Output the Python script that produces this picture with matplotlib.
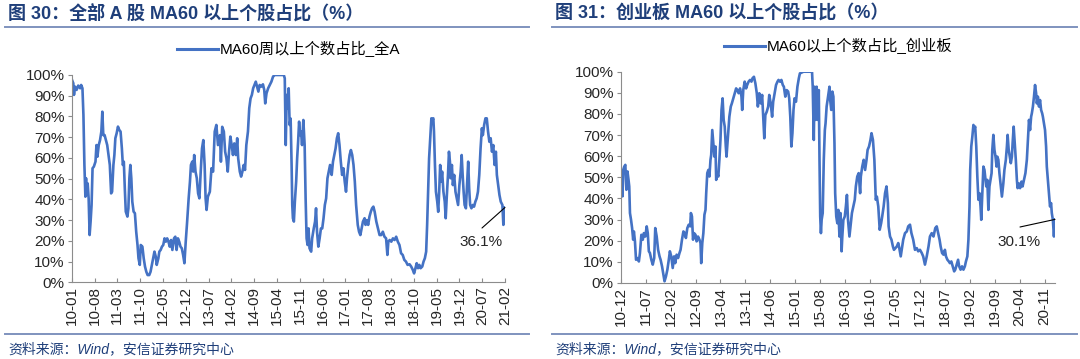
import matplotlib
matplotlib.use("Agg")
import matplotlib.pyplot as plt
from matplotlib.lines import Line2D
from matplotlib.ticker import FuncFormatter

# ---- data (x = months since start of each series, y = %) ----
# left: MA60周以上个数占比_全A, starts 2010-01
left_m = [0, 0.5, 0.7, 1.0, 1.5, 2.0, 2.6, 2.9, 3.3, 3.6, 3.9, 4.2, 4.4, 4.6, 4.9, 5.2, 5.5, 5.8, 6.1, 6.4,
          6.8, 7.3, 7.6, 7.9, 8.3, 8.7, 9.1, 9.4, 9.7, 10.1, 10.5, 10.9, 11.3, 11.7, 12.1, 12.4, 12.8, 13.1, 13.4, 13.8,
          14.2, 14.6, 15, 15.4, 15.7, 16, 16.3, 16.6, 17.1, 17.4, 17.7, 18, 18.3, 18.6, 19, 19.4, 19.8, 20.2, 20.5, 20.9,
          21.2, 21.7, 22.1, 22.5, 22.9, 23.3, 23.8, 24.2, 24.6, 25, 25.4, 25.8, 26.1, 26.6, 26.9, 27.3, 27.7, 28.1, 28.5, 28.9,
          29.3, 29.7, 30.1, 30.5, 30.9, 31.4, 31.8, 32.2, 32.6, 33, 33.4, 33.8, 34.2, 34.6, 35, 35.4, 35.9, 36.3, 36.6, 37,
          37.3, 37.6, 38, 38.4, 38.8, 39.2, 39.6, 40, 40.4, 40.8, 41.1, 41.4, 41.8, 42.4, 42.9, 43.4, 43.9, 44.4, 44.9, 45.5,
          45.8, 46.2, 46.7, 47.1, 47.5, 47.9, 48.3, 48.7, 49.1, 49.5, 49.9, 50.4, 50.8, 51.1, 51.6, 52, 52.4, 52.8, 53.2, 53.6,
          54.1, 54.5, 54.9, 55.3, 55.7, 56.1, 56.5, 56.9, 57.3, 57.7, 58.2, 58.7, 59.1, 59.4, 59.8, 60.3, 60.8, 61.3, 61.8, 62.3,
          63.8, 65.1, 65.4, 65.7, 66, 66.3, 66.6, 66.9, 67.2, 67.5, 67.7, 67.9, 68.2, 68.5, 68.9, 69.2, 69.5, 69.8, 70.1, 70.4,
          70.7, 71.1, 71.5, 71.8, 72.1, 72.4, 72.7, 73, 73.5, 73.8, 74.3, 74.7, 75, 75.3, 75.7, 76.1, 76.5, 76.9, 77.3, 77.7,
          78.1, 78.5, 78.9, 79.3, 79.8, 80.2, 80.6, 81, 81.4, 81.8, 82.2, 82.6, 83, 83.4, 83.8, 84.2, 84.5, 84.9, 85.3, 85.7,
          86.1, 86.5, 86.9, 87.3, 87.8, 88.2, 88.6, 88.9, 89.4, 89.9, 90.2, 90.6, 91, 91.4, 91.8, 92.2, 92.6, 93, 93.5, 94,
          94.5, 95, 95.5, 96, 96.5, 96.9, 97.2, 97.6, 98.1, 98.6, 99.1, 99.6, 100.1, 100.6, 101.1, 101.6, 102.1, 102.6, 103.1, 103.7,
          104.2, 104.7, 105.1, 105.5, 105.9, 106.3, 106.7, 107.1, 107.6, 108, 108.4, 108.8, 109.1, 109.4, 109.7, 110, 110.4, 110.7, 111, 111.2,
          111.5, 111.8, 112.2, 112.5, 112.8, 113.1, 113.4, 113.7, 114.1, 114.5, 114.8, 115.1, 115.5, 115.8, 116.1, 116.3, 116.7, 117, 117.4, 117.8,
          118.2, 118.6, 119, 119.4, 119.7, 120, 120.3, 120.6, 121, 121.4, 121.7, 122, 122.3, 122.7, 123.1, 123.5, 123.9, 124.3, 124.7, 125.1,
          125.5, 125.9, 126.2, 126.6, 127, 127.4, 127.8, 128.2, 128.6, 129, 129.4, 129.8, 130.2, 130.5, 130.9, 131.3, 131.7, 132.2, 132.5, 133]
left_v = [98, 96, 90.4, 94.4, 92.8, 94.9, 93.6, 95.2, 93.6, 80.7, 56.6, 41.3, 50.2, 42.1, 47.7, 40.5, 22.8, 29.3, 37.3, 55,
          55.8, 58.2, 66.2, 60.6, 66.2, 68.6, 72.7, 82.3, 71, 71, 68.6, 66.2, 61.4, 56.6, 42.9, 43.7, 56.6, 61.4, 69.5, 71.9,
          75.1, 73.5, 72.7, 64.6, 56.6, 58.2, 45.3, 34.1, 31.7, 35.7, 50.2, 56.6, 50.2, 38.9, 34.1, 33.3, 24.4, 18, 11.6, 8.4,
          18, 17.2, 11.6, 7.6, 5.1, 3.5, 3.5, 5.1, 8.4, 11.6, 14.8, 12.4, 8.4, 11.6, 14.8, 15.6, 17.2, 18, 21.2, 19.6,
          21.2, 19.6, 17.2, 20.4, 15.6, 21.2, 22, 15.6, 21.2, 19.6, 17.2, 16.4, 13.2, 9.2, 19.6, 28.5, 40.5, 48.6, 56.6, 58.2,
          53.4, 61.4, 53.4, 50.2, 42.9, 40.5, 53.4, 64.6, 68.6, 56.6, 40.5, 34.9, 41.3, 43.7, 55, 53.4, 72.7, 75.9, 66.2, 71,
          58.2, 75, 72.7, 63, 59.8, 53.4, 63, 70.3, 66.2, 61.4, 67, 61.4, 69.5, 59.8, 53.4, 51, 53.4, 56.6, 54.2, 66.2,
          72.7, 84, 88.7, 90.4, 93.6, 95.2, 96.8, 94.4, 92, 95.2, 94.4, 95.5, 92.8, 86.3, 91.2, 93.6, 95.2, 96.8, 99.2, 100,
          100, 100, 98.4, 66.2, 90.4, 84, 93.6, 75.9, 79, 56.6, 37.3, 30.9, 29.3, 38.9, 48.6, 59.8, 67.8, 77.5, 71, 72.7,
          66.2, 78.3, 66.2, 40.5, 21.2, 18, 26, 16.4, 14.8, 21.2, 26, 29.3, 35.7, 24.4, 17.2, 21.2, 26, 26, 30.9, 37.3,
          40.5, 50.2, 53.4, 56.6, 51.8, 58.2, 61.4, 64.6, 69.5, 71.9, 66.2, 58.2, 51.8, 55, 48.6, 43.7, 50.2, 56.6, 61.4, 63.8,
          61.4, 56.6, 48.6, 37.3, 27.7, 24.4, 22.8, 25.2, 29.3, 30.9, 27.7, 30, 27.7, 31.7, 34, 35.7, 36.5, 34, 29.3, 26,
          22.8, 22.8, 24.4, 22, 21.2, 13.2, 19.6, 20.4, 19.6, 21.2, 20.4, 22, 19.6, 18, 14, 13.2, 10.8, 10, 8.4, 8.7,
          7.6, 6, 4.3, 6.8, 9.2, 6.8, 8.4, 6.8, 7.6, 10, 11.6, 14.8, 27.7, 43.7, 59.8, 67.8, 79.1, 78.3, 79.1, 72.7,
          56.6, 43.7, 38.9, 34, 43.7, 56.6, 48.6, 53.4, 43.7, 38.9, 30.9, 40.5, 51.8, 63, 58.2, 50.2, 56.6, 46.9, 51.8, 43.7,
          40.5, 37.3, 46.9, 53.4, 61.4, 51.8, 43.7, 37.3, 35.7, 48.6, 58.2, 45.3, 37.3, 35.7, 37.3, 36.5, 38.9, 40.5, 43.7, 51.8,
          64.6, 74.3, 71, 75.9, 79.1, 79.1, 72.7, 67.8, 69.5, 63, 66.2, 56.6, 63, 51.8, 46.9, 42.1, 38.9, 37.3, 27.7, 36.1]

# right: MA60以上个数占比_创业板, starts 2010-12
right_m = [0, 0.3, 0.5, 0.7, 1.0, 1.3, 1.6, 1.9, 2.2, 2.4, 2.6, 2.9, 3.2, 3.5, 3.7, 4.0, 4.3, 4.7, 5.1, 5.4,
           5.8, 6.2, 6.5, 6.9, 7.3, 7.6, 7.9, 8.2, 8.6, 9.0, 9.4, 9.7, 10.1, 10.5, 10.9, 11.2, 11.6, 12.0, 12.3, 12.7,
           13.1, 13.5, 13.8, 14.2, 14.6, 15, 15.3, 15.7, 16.1, 16.5, 16.8, 17.2, 17.6, 18, 18.3, 18.7, 19.1, 19.5, 19.7, 20,
           20.3, 20.6, 21, 21.3, 21.7, 22.1, 22.4, 22.6, 22.9, 23.2, 23.5, 23.8, 24, 24.3, 24.6, 24.9, 25.2, 25.4, 25.7, 26,
           26.3, 26.6, 26.8, 27.1, 27.4, 27.7, 28, 28.3, 28.6, 28.9, 29.2, 29.5, 29.7, 30.1, 30.5, 30.9, 31.2, 31.6, 32, 32.4,
           32.7, 33.1, 33.5, 33.9, 34.1, 34.4, 34.8, 35.2, 35.5, 35.9, 36.3, 36.7, 37, 37.4, 37.8, 38.2, 38.5, 38.9, 39.3, 39.7,
           40, 40.3, 40.6, 41, 41.4, 41.7, 42.1, 42.5, 42.8, 43.2, 43.6, 44, 44.3, 44.7, 45.1, 45.5, 45.8, 46.2, 46.6, 47,
           47.3, 47.6, 47.9, 48.2, 48.5, 48.8, 49.2, 49.6, 50, 50.3, 51.3, 52.2, 53.1, 53.7, 53.9, 54.2, 54.4, 54.7, 55, 55.3,
           55.6, 55.8, 56, 56.2, 56.4, 56.7, 57, 57.3, 57.5, 57.8, 58.2, 58.6, 58.8, 59.1, 59.4, 59.7, 60, 60.2, 60.5, 60.8,
           61.1, 61.4, 61.7, 62, 62.2, 62.5, 62.9, 63.2, 63.5, 63.8, 64.2, 64.5, 64.9, 65.3, 65.7, 66, 66.4, 66.8, 67.2, 67.4,
           67.8, 68.2, 68.6, 69, 69.3, 69.7, 70.1, 70.4, 70.8, 71.2, 71.6, 71.9, 72.3, 72.7, 73.1, 73.4, 73.8, 74.2, 74.6, 75,
           75.2, 75.6, 76, 76.4, 76.7, 77.1, 77.5, 77.9, 78.2, 78.6, 79.3, 79.8, 80.3, 80.7, 81.2, 81.6, 82.1, 82.6, 83.1, 83.5,
           84, 84.5, 84.9, 85.4, 85.9, 86.4, 86.8, 87.3, 87.8, 88.3, 88.7, 89.1, 89.5, 89.8, 90.2, 90.6, 91, 91.3, 91.7, 92.1,
           92.4, 92.8, 93.2, 93.6, 93.9, 94.3, 94.7, 95, 95.4, 95.8, 96.2, 96.6, 96.9, 97.3, 97.6, 97.9, 98.1, 98.4, 98.7, 99,
           99.3, 99.5, 99.8, 100.1, 100.4, 100.7, 101, 101.2, 101.5, 101.8, 102.1, 102.3, 102.6, 102.9, 103.2, 103.5, 103.8, 104.1, 104.3, 104.6,
           104.9, 105.2, 105.5, 105.7, 106, 106.3, 106.6, 107, 107.4, 107.7, 108.1, 108.4, 108.6, 108.9, 109.2, 109.5, 109.8, 110, 110.3, 110.6,
           110.9, 111.2, 111.4, 111.7, 112.1, 112.5, 112.8, 113.2, 113.6, 114, 114.3, 114.6, 114.9, 115.2, 115.4, 115.7, 116, 116.3, 116.6, 116.8,
           117.1, 117.4, 117.7, 118, 118.3, 118.5, 118.8, 119.1, 119.4, 119.6, 119.9, 120.2, 120.5, 120.8, 121, 121.3, 121.6, 121.9]
right_v = [52, 51.2, 41, 53.5, 55.1, 55.9, 44.1, 52.8, 48.8, 45.7, 33.1, 29.9, 26, 20.5, 24.4, 19.7, 11, 11.8, 10.2, 14.2,
           22.8, 20.5, 23.6, 22, 26.8, 23.6, 15, 14.2, 11, 8.7, 11.8, 26, 22, 15.7, 12.6, 11, 7.9, 3.9, 0.8, 3.1,
           6.3, 11, 15, 12.6, 7.1, 12.6, 9.4, 13.4, 11.8, 14.2, 15.7, 20.5, 24.4, 23.6, 21.3, 26, 27.6, 26.8, 33.1, 31.5,
           20.5, 23.6, 22.8, 19.7, 22, 20.5, 18.9, 9.4, 18.9, 23.6, 32.3, 34.6, 42.5, 52, 53.5, 50.4, 58.3, 60.6, 72.4, 66.1,
           59.8, 64.6, 48.8, 52, 50.4, 58.3, 67.7, 81.9, 87.4, 77.2, 74, 64.6, 59.8, 69.3, 78.7, 83.5, 85, 87.4, 89.8, 92.1,
           91.3, 89.8, 92.1, 88.2, 81.9, 91.3, 95.3, 92.1, 93.7, 95.3, 96.1, 95.3, 96.9, 97.6, 94.5, 89.8, 83.5, 89.8, 85, 89,
           78.7, 68.5, 79.5, 81.1, 83.5, 89, 85, 78.7, 85.8, 89.8, 93.7, 95.3, 96.1, 95.3, 96.1, 93.7, 92.9, 88.2, 91.3, 90.6,
           87.4, 78.7, 64.6, 70.9, 81.9, 87.4, 85.8, 92.9, 96.9, 99.2, 100, 100, 100, 100, 92.9, 67.7, 92.9, 77.2, 92.9, 77.2,
           91.3, 58.3, 31.5, 23.6, 29.9, 33.1, 58.3, 72.4, 75.6, 83.5, 88.2, 92.9, 86.6, 81.9, 90.6, 88.2, 66.1, 42.5, 31.5, 28.3,
           34.6, 22, 33.1, 15, 22, 29.9, 31.5, 36.2, 41.7, 29.9, 22, 26.8, 33.1, 36.2, 39.4, 45.7, 50.4, 52, 42.5, 50.4,
           55.1, 58.3, 53.5, 58.3, 63, 64.6, 67.7, 70.9, 67.7, 58.3, 39.4, 40.9, 36.2, 25.2, 28.3, 31.5, 36.2, 42.5, 45.7, 37.8,
           26.8, 22, 20.5, 17.3, 15.7, 16.5, 17.3, 18.9, 16.5, 12.6, 20.5, 23.6, 24.4, 26.8, 27.6, 23.6, 20.5, 15.7, 16.5, 15,
           15.7, 14.2, 12.6, 8.7, 12.6, 17.3, 22, 23.6, 22, 26, 26.8, 23.6, 20.5, 17.3, 14.2, 13.4, 15.7, 12.6, 11, 10.2,
           9.4, 10.2, 7.9, 5.5, 6.3, 8.7, 11, 7.9, 6.3, 7.9, 6.3, 7.9, 10.2, 12.6, 20.5, 36.2, 53.5, 64.6, 69.3, 74.8,
           73.2, 74, 64.6, 50.4, 39.4, 42.5, 36.2, 29.9, 42.5, 55.1, 53.5, 50.4, 45.7, 48.8, 34.6, 45.7, 48.8, 52, 63, 70.1,
           63, 59.8, 55.1, 59.8, 58.3, 52, 47.2, 40.9, 47.2, 53.5, 58.3, 64.6, 70.1, 63, 59.8, 56.7, 59.8, 66.1, 74, 66.1,
           58.3, 48.8, 44.9, 47.2, 44.9, 48, 45.7, 48.8, 52, 58.3, 67.7, 77.2, 72.4, 78.7, 80.3, 83.5, 88.2, 93.7, 89.8, 85,
           88.2, 83.5, 86.6, 81.9, 80.3, 78.7, 75.6, 72.4, 64.6, 55.1, 48.8, 42.5, 36.2, 37.8, 33.1, 29.9, 22, 30.1]

left_ticks = ["10-01", "10-08", "11-03", "11-10", "12-05", "12-12", "13-07", "14-02", "14-09", "15-04",
              "15-11", "16-06", "17-01", "17-08", "18-03", "18-10", "19-05", "19-12", "20-07", "21-02"]
right_ticks = ["10-12", "11-07", "12-02", "12-09", "13-04", "13-11", "14-06", "15-01", "15-08", "16-03",
               "16-10", "17-05", "17-12", "18-07", "19-02", "19-09", "20-04", "20-11"]

titles = ["图 30：全部 A 股 MA60 以上个股占比（%）", "图 31：创业板 MA60 以上个股占比（%）"]
legends = ["MA60周以上个数占比_全A", "MA60以上个数占比_创业板"]
last_labels = ["36.1%", "30.1%"]
source = "资料来源：Wind，安信证券研究中心"

FONT = ["Liberation Sans", "Noto Sans CJK SC", "DejaVu Sans"]
plt.rcParams["font.family"] = FONT
LINE = "#4472C4"
NAVY = "#1F3F7A"

W, H = 1080, 359
fig = plt.figure(figsize=(W / 100, H / 100), dpi=100)


def px(x0, y0, x1, y1):
    # pixel box -> figure fraction rect
    return [x0 / W, 1 - y1 / H, (x1 - x0) / W, (y1 - y0) / H]


panels = [
    dict(rect=px(71.7, 75, 505, 282.3), m=left_m, v=left_v, ticks=left_ticks, xmax=133,
         ann_text=(481, 242), ann_from=(482, 228)),
    dict(rect=px(620.7, 71.7, 1055, 283), m=right_m, v=right_v, ticks=right_ticks, xmax=121.9,
         ann_text=(1019, 242), ann_from=(1020, 227)),
]

for i, p in enumerate(panels):
    ax = fig.add_axes(p["rect"])
    ax.plot(p["m"], p["v"], color=LINE, lw=1.9, solid_joinstyle="round")
    ax.set_xlim(0, p["xmax"])
    ax.set_ylim(0, 100)
    ax.set_yticks(range(0, 101, 10))
    ax.yaxis.set_major_formatter(FuncFormatter(lambda y, _: f"{y:.0f}%"))
    ax.set_xticks([7 * k for k in range(len(p["ticks"]))])
    ax.set_xticklabels(p["ticks"], rotation=90)
    for s in ["top", "right"]:
        ax.spines[s].set_visible(False)
    for s in ["left", "bottom"]:
        ax.spines[s].set_color("#8C8C8C")
        ax.spines[s].set_linewidth(0.8)
    ax.tick_params(axis="x", direction="in", length=3, color="#8C8C8C", labelsize=11, pad=3, labelcolor="#262626")
    ax.tick_params(axis="y", direction="out", length=3, color="#8C8C8C", labelsize=11, pad=2, labelcolor="#262626")

    # end-value callout
    x_end, y_end = p["m"][-1], p["v"][-1]
    tx, ty = p["ann_from"]
    ax.annotate("", xy=(x_end, y_end), xytext=(tx / W, 1 - ty / H), textcoords="figure fraction",
                arrowprops=dict(arrowstyle="-", color="black", lw=0.8, shrinkA=0, shrinkB=0))
    lx, ly = p["ann_text"]
    fig.text(lx / W, 1 - ly / H, last_labels[i], ha="center", va="center", fontsize=11, color="#262626")

    # legend
    ax.legend([Line2D([0], [0], color=LINE, lw=2.2)], [legends[i]], loc="lower center",
              bbox_to_anchor=(0.5, 1.0), frameon=False, fontsize=11, handlelength=2.7,
              handletextpad=0.1, borderaxespad=0.75)

# titles, rules and source notes
for x0, x1, title in [(5, 529, titles[0]), (552, 1077, titles[1])]:
    fig.text((x0 + 3) / W, 1 - 13 / H, title, fontsize=13, fontweight="bold", color=NAVY,
             ha="left", va="center")
    fig.add_artist(Line2D([x0 / W, x1 / W], [1 - 27 / H] * 2, color="#7F93BE", lw=1.4))
    fig.add_artist(Line2D([x0 / W, x1 / W], [1 - 334 / H] * 2, color="#7F93BE", lw=1.4))
    fig.text((x0 + 3) / W, 1 - 349 / H, source, fontsize=10, style="italic", color=NAVY,
             ha="left", va="center")

fig.savefig("out.png", dpi=100)
